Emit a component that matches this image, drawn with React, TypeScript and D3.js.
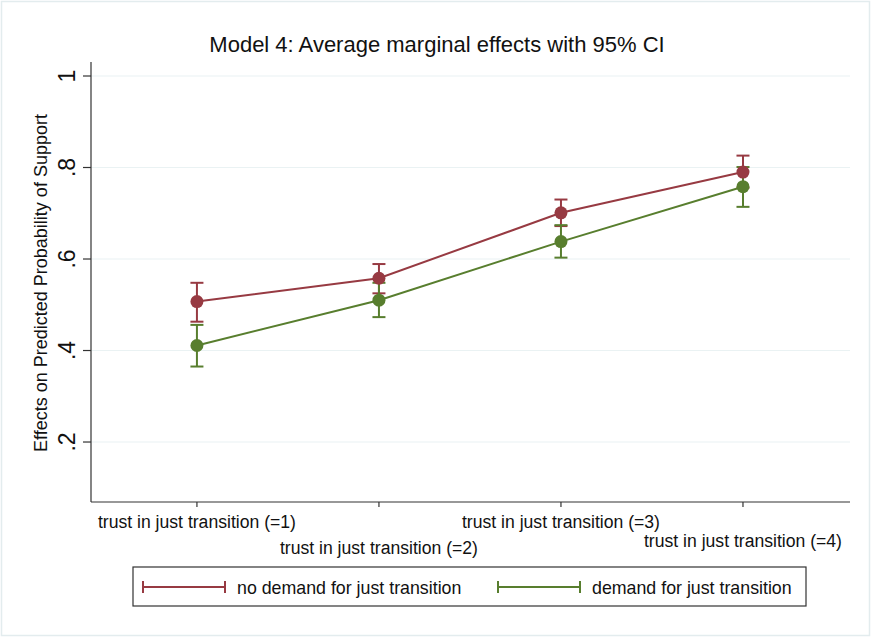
import React from "react";
import * as d3 from "d3";

const categories = ["trust in just transition (=1)", "trust in just transition (=2)", "trust in just transition (=3)", "trust in just transition (=4)"];
const seriesNames = ["no demand for just transition", "demand for just transition"];
const noDemand = [0.507, 0.558, 0.701, 0.790];
const noDemandLo = [0.463, 0.525, 0.672, 0.756];
const noDemandHi = [0.548, 0.589, 0.730, 0.826];
const demand = [0.411, 0.510, 0.638, 0.758];
const demandLo = [0.365, 0.473, 0.603, 0.714];
const demandHi = [0.456, 0.548, 0.674, 0.801];
const yTicks = [0.2, 0.4, 0.6, 0.8, 1];
const yTickLabels = [".2", ".4", ".6", ".8", "1"];

const W = 871, H = 637;
const left = 91, right = 850, bottom = 502, top = 62;
const RED = "#973a42";
const GREEN = "#587e2e";
const FONT = "Arial, 'Liberation Sans', sans-serif";

export default function App() {
  const x = d3.scaleLinear().domain([0.418, 4.588]).range([left, right]);
  const y = d3.scaleLinear().domain([0.0689, 1]).range([bottom, 76]);
  const idx = [1, 2, 3, 4];
  const line = d3.line<number>().x((_, i) => x(idx[i])).y((d) => y(d));

  const series = [
    { name: seriesNames[0], vals: noDemand, lo: noDemandLo, hi: noDemandHi, color: RED },
    { name: seriesNames[1], vals: demand, lo: demandLo, hi: demandHi, color: GREEN },
  ];
  const cap = 6.5;
  const labelY = [522, 548, 522, 541];

  return (
    <svg width={W} height={H} style={{ position: "absolute", left: 0, top: 0 }} fontFamily={FONT}>
      <rect x={0} y={0} width={W} height={H} fill="#fff" />
      <rect x={1.5} y={1.5} width={W - 3} height={H - 3} fill="none" stroke="#e3ecee" strokeWidth={1.5} />
      {yTicks.map((t) => (
        <line key={t} x1={left} x2={right} y1={y(t)} y2={y(t)} stroke="#eaf2f3" strokeWidth={1.2} />
      ))}
      <line x1={left} x2={left} y1={top} y2={bottom} stroke="#333" strokeWidth={1.2} />
      <line x1={left} x2={right} y1={bottom} y2={bottom} stroke="#333" strokeWidth={1.2} />
      {yTicks.map((t, i) => (
        <g key={t}>
          <line x1={left - 8} x2={left} y1={y(t)} y2={y(t)} stroke="#333" strokeWidth={1.2} />
          <text transform={`translate(${left - 16},${y(t)}) rotate(-90)`} textAnchor="middle" fontSize={23} fill="#111">
            {yTickLabels[i]}
          </text>
        </g>
      ))}
      {idx.map((c, i) => (
        <g key={c}>
          <line x1={x(c)} x2={x(c)} y1={bottom} y2={bottom + 5} stroke="#333" strokeWidth={1.2} />
          <text x={x(c)} y={labelY[i] + 6} textAnchor="middle" fontSize={17.6} fill="#111">
            {categories[i]}
          </text>
        </g>
      ))}
      <text transform={`translate(47,283) rotate(-90)`} textAnchor="middle" fontSize={18} fill="#111">
        Effects on Predicted Probability of Support
      </text>
      <text x={437} y={52} textAnchor="middle" fontSize={22} fill="#111">
        Model 4: Average marginal effects with 95% CI
      </text>
      {series.map((s) => (
        <g key={s.name}>
          {idx.map((c, i) => (
            <g key={c} stroke={s.color} strokeWidth={2}>
              <line x1={x(c)} x2={x(c)} y1={y(s.lo[i])} y2={y(s.hi[i])} />
              <line x1={x(c) - cap} x2={x(c) + cap} y1={y(s.lo[i])} y2={y(s.lo[i])} />
              <line x1={x(c) - cap} x2={x(c) + cap} y1={y(s.hi[i])} y2={y(s.hi[i])} />
            </g>
          ))}
        </g>
      ))}
      {series.map((s) => (
        <g key={s.name + "l"}>
          <path d={line(s.vals) || ""} fill="none" stroke={s.color} strokeWidth={2} />
          {idx.map((c, i) => (
            <circle key={c} cx={x(c)} cy={y(s.vals[i])} r={6.5} fill={s.color} />
          ))}
        </g>
      ))}
      <rect x={133} y={567} width={673} height={39} fill="#fff" stroke="#333" strokeWidth={1.2} />
      {series.map((s, i) => {
        const lx = i === 0 ? 143 : 498;
        return (
          <g key={s.name + "leg"}>
            <g stroke={s.color} strokeWidth={2}>
              <line x1={lx} x2={lx + 82} y1={587} y2={587} />
              <line x1={lx} x2={lx} y1={581} y2={593} />
              <line x1={lx + 82} x2={lx + 82} y1={581} y2={593} />
            </g>
            <text x={lx + 94} y={593.5} fontSize={17.8} fill="#111">
              {s.name}
            </text>
          </g>
        );
      })}
    </svg>
  );
}
